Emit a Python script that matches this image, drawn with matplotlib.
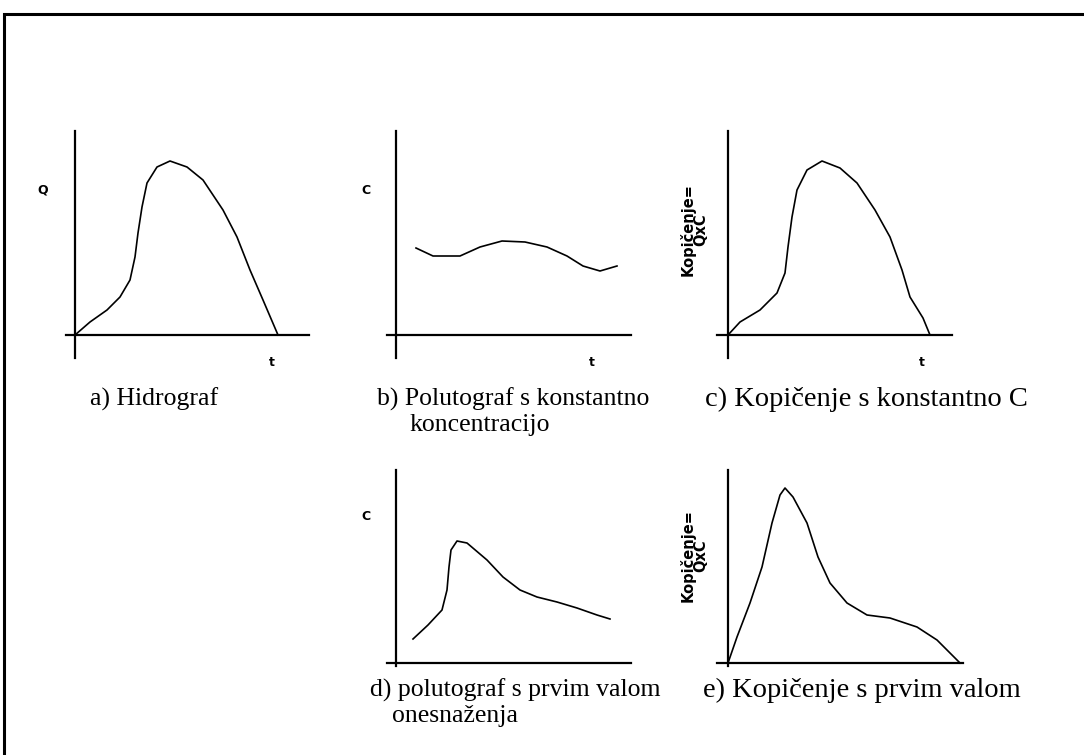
import matplotlib
matplotlib.use("Agg")
import matplotlib.pyplot as plt
from matplotlib.patches import Rectangle

W, H = 1084, 755

# podatki (shematske krivulje, enote od izhodišča osi)
a_t = [0, 15, 32, 45, 55, 60, 63, 67, 72, 82, 95, 112, 128, 148, 162, 175, 188, 203]
a_q = [0, 13, 25, 38, 55, 78, 102, 128, 152, 168, 174, 168, 155, 125, 98, 65, 35, 0]

b_t = [20, 37, 64, 84, 106, 129, 151, 171, 187, 204, 221]
b_c = [87, 79, 79, 88, 94, 93, 88, 79, 69, 64, 69]

c_t = [0, 12, 32, 49, 57, 60, 64, 69, 79, 94, 112, 129, 147, 162, 174, 182, 195, 202]
c_qc = [0, 13, 25, 42, 62, 88, 118, 145, 165, 174, 167, 152, 125, 98, 65, 38, 17, 0]

d_t = [17, 32, 46, 51, 53, 55, 61, 71, 91, 107, 124, 141, 161, 181, 201, 214]
d_c = [24, 38, 53, 73, 96, 113, 122, 120, 103, 86, 73, 66, 61, 55, 48, 44]

e_t = [0, 9, 22, 34, 44, 52, 57, 65, 79, 90, 102, 119, 139, 162, 189, 209, 232]
e_qc = [0, 26, 60, 96, 140, 168, 175, 166, 140, 106, 80, 60, 48, 45, 36, 23, 0]

cap_a = ["a) Hidrograf"]
cap_b = ["b) Polutograf s konstantno", "koncentracijo"]
cap_c = ["c) Kopičenje s konstantno C"]
cap_d = ["d) polutograf s prvim valom", "onesnaženja"]
cap_e = ["e) Kopičenje s prvim valom"]

fig = plt.figure(figsize=(W / 100, H / 100), dpi=100)

# okvir (zgoraj in levo)
fig.patches.append(Rectangle((4 / W, -0.1), 1.2, (H - 13.5) / H + 0.1, transform=fig.transFigure,
                             fill=False, edgecolor="black", linewidth=2.2))


def panel(ox, oy, xl, xr, yt, yb):
    ax = fig.add_axes([xl / W, 1 - yb / H, (xr - xl) / W, (yb - yt) / H])
    ax.set_xlim(xl - ox, xr - ox)
    ax.set_ylim(oy - yb, oy - yt)
    for s in ["top", "right"]:
        ax.spines[s].set_visible(False)
    for s in ["left", "bottom"]:
        ax.spines[s].set_position(("data", 0))
        ax.spines[s].set_linewidth(1.6)
    ax.set_xticks([])
    ax.set_yticks([])
    ax.patch.set_alpha(0)
    return ax


lab = dict(fontsize=9, family="DejaVu Sans", fontweight="bold", ha="center", va="center", clip_on=False)
kop = dict(fontsize=10.5, family="DejaVu Sans", fontweight="bold", ha="center", va="center",
           clip_on=False, rotation=90, linespacing=0.85)
kop_txt = "Kopičenje=\nQxC"

ax = panel(75, 335, 66, 309, 131, 358)
ax.plot(a_t, a_q, color="black", lw=1.2)
ax.text(-32, 145, "Q", **lab)
ax.text(197, -27, "t", **lab)

ax = panel(396, 335, 387, 631, 131, 358)
ax.plot(b_t, b_c, color="black", lw=1.2)
ax.text(-30, 145, "C", **lab)
ax.text(196, -27, "t", **lab)

ax = panel(728, 335, 717, 952, 131, 358)
ax.plot(c_t, c_qc, color="black", lw=1.2)
ax.text(-34, 105, kop_txt, **kop)
ax.text(194, -27, "t", **lab)

ax = panel(396, 663, 387, 631, 470, 666)
ax.plot(d_t, d_c, color="black", lw=1.2)
ax.text(-30, 146, "C", **lab)

ax = panel(728, 663, 717, 963, 470, 666)
ax.plot(e_t, e_qc, color="black", lw=1.2)
ax.text(-34, 107, kop_txt, **kop)


def caption(lines, x1, x2, base, size):
    xs = [x1, x2]
    for i, line in enumerate(lines):
        fig.text(xs[i] / W, 1 - (base + i * 25) / H, line, fontsize=size,
                 family="Liberation Serif", ha="left", va="baseline")


caption(cap_a, 90, 90, 406, 18.5)
caption(cap_b, 377, 410, 406, 18.5)
caption(cap_c, 705, 705, 406, 20.5)
caption(cap_d, 370, 392, 697, 18.5)
caption(cap_e, 703, 703, 697, 20.5)

fig.savefig("out.png", dpi=100)
